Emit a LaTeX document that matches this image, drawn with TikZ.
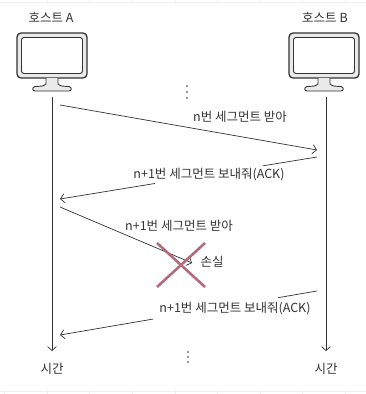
\documentclass[tikz,border=0pt]{standalone}
\usepackage{fontspec}
\setmainfont{Noto Sans CJK KR}
\usetikzlibrary{arrows.meta,calc}
\definecolor{ink}{HTML}{333333}
\definecolor{bezel}{HTML}{EAEAEA}
\definecolor{lossred}{HTML}{B36A7B}
\definecolor{rule}{HTML}{F0F0F0}
\tikzset{
  label/.style={text=ink, font=\fontsize{12.5}{14}\selectfont, inner sep=1pt},
  host/.style={text=ink, font=\fontsize{12.5}{14}\selectfont},
  msg/.style={draw=ink, line width=0.7pt, -{Straight Barb[length=4pt,width=9pt]}},
  seg/.style={draw=ink, line width=0.7pt},
  timeline/.style={draw=ink, line width=0.7pt, -{Straight Barb[length=4pt,width=9pt]}},
  lost/.style={draw=lossred, line width=2.6pt},
  monitor/.pic={
    % frame and screen
    \draw[ink, line width=1.3pt, fill=bezel, rounded corners=4pt] (-35,-23) rectangle (35,22);
    \draw[ink, line width=0.9pt, fill=white, rounded corners=2.5pt] (-30.5,-18.5) rectangle (30.5,17.5);
    % stand
    \draw[ink, line width=0.9pt, fill=bezel]
      (-6,22) -- (-6,28) .. controls (-8,30) .. (-17,30.5)
      .. controls (-20,31) and (-20,35) .. (-17,35) -- (17,35)
      .. controls (20,35) and (20,31) .. (17,30.5)
      .. controls (8,30) .. (6,28) -- (6,22);
  }
}
\begin{document}
\begin{tikzpicture}[x=1pt,y=-1pt]
  \useasboundingbox (0,0) rectangle (366,394);
  \fill[white] (0,0) rectangle (366,394);

  % faint page rules
  \draw[rule, line width=0.8pt] (0,2) -- (366,2);
  \foreach \x in {47,89,132,175,217,260,302,345} \draw[rule, line width=0.8pt] (\x,0) -- (\x,3);
  \draw[rule, line width=0.8pt] (0,391) -- (366,391);
  \foreach \x in {4,47,89,132,175,217,260,302,345} \draw[rule, line width=0.8pt] (\x,390) -- (\x,394);

  % hosts
  \node[host] (hostA) at (51,17) {호스트 A};
  \node[host] (hostB) at (325,17) {호스트 B};
  \pic at (52,56) {monitor};
  \pic at (324,56) {monitor};

  % time axes
  \coordinate (Atop) at (52,97);
  \coordinate (Abot) at (52,351);
  \coordinate (Btop) at (326,97);
  \coordinate (Bbot) at (326,351);
  \draw[timeline] (Atop) -- (Abot);
  \draw[timeline] (Btop) -- (Bbot);
  \node[host] (timeA) at (52,369) {시간};
  \node[host] (timeB) at (326,369) {시간};

  % ellipses
  \foreach \y in {86,92,98} \fill[ink] (187,\y) circle (0.9);
  \foreach \y in {352,357,362} \fill[ink] (188,\y) circle (0.9);

  % segment n : A -> B
  \coordinate (s1) at (60,105);
  \coordinate (e1) at (317,150);
  \draw[msg] (s1) -- (e1);
  \node[label] (l1) at (240,117) {n번 세그먼트 받아};

  % ACK n+1 : B -> A
  \coordinate (s2) at (317,157);
  \coordinate (e2) at (60,199);
  \draw[seg] (s2) -- ($(s2)!0.21!(e2)$);
  \draw[msg] ($(s2)!0.63!(e2)$) -- (e2);
  \node[label] (l2) at (209,175) {n+1번 세그먼트 보내줘(ACK)};

  % segment n+1 : lost
  \coordinate (s3) at (60,207);
  \coordinate (e3) at (192,263);
  \draw[msg] (s3) -- (e3);
  \node[label] (l3) at (179,226) {n+1번 세그먼트 받아};
  \coordinate (x) at (181,265);
  \draw[lost] ($(x)+(-24,-22)$) -- ($(x)+(24,22)$);
  \draw[lost] ($(x)+(24,-22)$) -- ($(x)+(-24,22)$);
  \node[label] (loss) at (212,262) {손실};

  % ACK n+1 again : B -> A
  \coordinate (s4) at (317,291);
  \coordinate (e4) at (60,335);
  \draw[seg] (s4) -- ($(s4)!0.152!(e4)$);
  \draw[msg] ($(s4)!0.638!(e4)$) -- (e4);
  \node[label] (l4) at (235,309) {n+1번 세그먼트 보내줘(ACK)};
\end{tikzpicture}
\end{document}
